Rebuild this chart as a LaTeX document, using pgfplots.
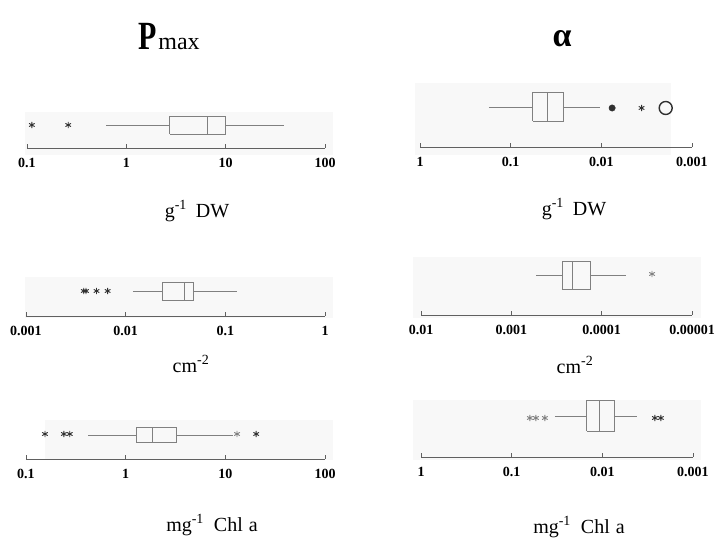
\documentclass[border=0pt]{standalone}
\usepackage{pgfplots}
\pgfplotsset{compat=1.18}
\usepackage{fontspec}
\setmainfont{Liberation Serif}
\definecolor{bgc}{HTML}{F8F8F8}
\definecolor{boxc}{HTML}{808080}
\definecolor{axc}{HTML}{606060}
\definecolor{outc}{HTML}{303030}
\pgfplotsset{
  myaxisstyle/.style={
    scale only axis, clip=false,
    axis x line=bottom, axis y line=none,
    axis line style={-, axc, line width=0.9pt},
    xminorticks=false,
    tick align=inside, major tick length=4pt,
    every tick/.style={axc, line width=0.8pt},
    /pgf/number format/assume math mode=true,
    xticklabel style={font=\bfseries\fontsize{14}{14}\selectfont, yshift=-7pt},
  },
  bl/.style={draw=boxc, line width=0.8pt, solid, mark=none},
  ast/.style={only marks, mark=asterisk, mark size=3.2pt, outc, mark options={line width=0.9pt}},
}
\newcommand{\unitfont}{\fontsize{20}{20}\selectfont}
\begin{document}
\begin{tikzpicture}
\path[use as bounding box] (0pt,0pt) rectangle (726pt,540pt);
% backgrounds
\fill[bgc] (25pt,385pt) rectangle (333pt,428pt);
\fill[bgc] (415pt,385pt) rectangle (671pt,457pt);
\fill[bgc] (25pt,222pt) rectangle (333pt,263pt);
\fill[bgc] (413pt,222pt) rectangle (701pt,283pt);
\fill[bgc] (45pt,80pt) rectangle (333pt,120pt);
\fill[bgc] (413pt,80pt) rectangle (701pt,140pt);

% Panel 1: Pmax g-1 DW
\begin{axis}[xmode=log, myaxisstyle, at={(27pt,392pt)}, anchor=south west, width=298pt, height=36pt,
  xmin=0.1, xmax=100, ymin=0, ymax=36,
  xtick={0.1,1,10,100}, xticklabels={0.1,1,10,100}]
\addplot[bl] coordinates {(0.63,23) (2.74,23)};
\addplot[bl] coordinates {(10,23) (39,23)};
\addplot[bl] coordinates {(2.74,14) (10,14) (10,32) (2.74,32) (2.74,14)};
\addplot[bl] coordinates {(6.6,14) (6.6,32)};
\addplot[ast] coordinates {(0.112,23) (0.26,23)};
\end{axis}

% Panel 2: alpha g-1 DW (scale runs from 1 at left to 0.001 at right; x = 1/value)
\begin{axis}[xmode=log, myaxisstyle, at={(420pt,393pt)}, anchor=south west, width=272pt, height=64pt,
  xmin=1, xmax=1000, ymin=0, ymax=64,
  xtick={1,10,100,1000}, xticklabels={1,0.1,0.01,0.001}]
\addplot[bl] table[x expr=1/\thisrowno{0}, y index=1, row sep=\\] {0.174 40\\ 0.057 40\\};
\addplot[bl] table[x expr=1/\thisrowno{0}, y index=1, row sep=\\] {0.0265 40\\ 0.0104 40\\};
\addplot[bl] table[x expr=1/\thisrowno{0}, y index=1, row sep=\\] {0.057 25.5\\ 0.0265 25.5\\ 0.0265 54.5\\ 0.057 54.5\\ 0.057 25.5\\};
\addplot[bl] table[x expr=1/\thisrowno{0}, y index=1, row sep=\\] {0.039 25.5\\ 0.039 54.5\\};
\addplot[only marks, mark=*, mark size=3.2pt, outc] table[x expr=1/\thisrowno{0}, y index=1, row sep=\\] {0.0076 39\\};
\addplot[ast] table[x expr=1/\thisrowno{0}, y index=1, row sep=\\] {0.0036 39\\};
\addplot[only marks, mark=o, mark size=6.5pt, outc, mark options={line width=1.4pt}] table[x expr=1/\thisrowno{0}, y index=1, row sep=\\] {0.00195 39\\};
\end{axis}

% Panel 3: Pmax cm-2
\begin{axis}[xmode=log, myaxisstyle, at={(26pt,224pt)}, anchor=south west, width=299pt, height=39pt,
  xmin=0.001, xmax=1, ymin=0, ymax=39,
  xtick={0.001,0.01,0.1,1}, xticklabels={0.001,0.01,0.1,1}]
\addplot[bl] coordinates {(0.0118,25) (0.0231,25)};
\addplot[bl] coordinates {(0.0473,25) (0.131,25)};
\addplot[bl] coordinates {(0.0231,16) (0.0473,16) (0.0473,34) (0.0231,34) (0.0231,16)};
\addplot[bl] coordinates {(0.0385,16) (0.0385,34)};
\addplot[ast] coordinates {(0.0038,25) (0.0040,25) (0.0051,25) (0.0066,25)};
\end{axis}

% Panel 4: alpha cm-2 (scale from 0.01 at left to 0.00001 at right; x = 1/value)
\begin{axis}[xmode=log, myaxisstyle, at={(421pt,225pt)}, anchor=south west, width=271pt, height=58pt,
  xmin=100, xmax=100000, ymin=0, ymax=58,
  xtick={100,1000,10000,100000}, xticklabels={0.01,0.001,0.0001,0.00001}]
\addplot[bl] table[x expr=1/\thisrowno{0}, y index=1, row sep=\\] {0.000533 40\\ 0.000275 40\\};
\addplot[bl] table[x expr=1/\thisrowno{0}, y index=1, row sep=\\] {0.000135 40\\ 0.0000537 40\\};
\addplot[bl] table[x expr=1/\thisrowno{0}, y index=1, row sep=\\] {0.000275 26\\ 0.000135 26\\ 0.000135 54\\ 0.000275 54\\ 0.000275 26\\};
\addplot[bl] table[x expr=1/\thisrowno{0}, y index=1, row sep=\\] {0.000213 26\\ 0.000213 54\\};
\addplot[ast, gray] table[x expr=1/\thisrowno{0}, y index=1, row sep=\\] {0.0000277 41\\};
\end{axis}

% Panel 5: Pmax mg-1 Chl a
\begin{axis}[xmode=log, myaxisstyle, at={(26pt,81pt)}, anchor=south west, width=299pt, height=39pt,
  xmin=0.1, xmax=100, ymin=0, ymax=39,
  xtick={0.1,1,10,100}, xticklabels={0.1,1,10,100}]
\addplot[bl] coordinates {(0.42,24) (1.27,24)};
\addplot[bl] coordinates {(3.2,24) (11.9,24)};
\addplot[bl] coordinates {(1.27,16.5) (3.2,16.5) (3.2,31.5) (1.27,31.5) (1.27,16.5)};
\addplot[bl] coordinates {(1.84,16.5) (1.84,31.5)};
\addplot[ast] coordinates {(0.155,25) (0.24,25) (0.275,25) (20.4,25)};
\addplot[ast, gray] coordinates {(13.1,25)};
\end{axis}

% Panel 6: alpha mg-1 Chl a (scale from 1 at left to 0.001 at right; x = 1/value)
\begin{axis}[xmode=log, myaxisstyle, at={(421pt,83pt)}, anchor=south west, width=272pt, height=57pt,
  xmin=1, xmax=1000, ymin=0, ymax=57,
  xtick={1,10,100,1000}, xticklabels={1,0.1,0.01,0.001}]
\addplot[bl] table[x expr=1/\thisrowno{0}, y index=1, row sep=\\] {0.0333 41\\ 0.0148 41\\};
\addplot[bl] table[x expr=1/\thisrowno{0}, y index=1, row sep=\\] {0.00745 41\\ 0.00416 41\\};
\addplot[bl] table[x expr=1/\thisrowno{0}, y index=1, row sep=\\] {0.0148 25.5\\ 0.00745 25.5\\ 0.00745 56.5\\ 0.0148 56.5\\ 0.0148 25.5\\};
\addplot[bl] table[x expr=1/\thisrowno{0}, y index=1, row sep=\\] {0.0109 25.5\\ 0.0109 56.5\\};
\addplot[ast, gray] table[x expr=1/\thisrowno{0}, y index=1, row sep=\\] {0.063 39\\ 0.054 39\\ 0.043 39\\};
\addplot[ast] table[x expr=1/\thisrowno{0}, y index=1, row sep=\\] {0.00263 39\\ 0.00226 39\\};
\end{axis}

% titles and unit labels
\node[anchor=base] at (169pt,490pt) {\bfseries\scalebox{0.75}[1]{\fontsize{40}{40}\selectfont P}\,\mdseries\fontsize{24}{24}\selectfont max};
\node[anchor=base] at (562pt,493pt) {\bfseries\fontsize{34}{34}\selectfont α};
\node[font=\unitfont] at (197pt,329pt) {g\textsuperscript{-1}\hspace{0.45em}DW};
\node[font=\unitfont] at (574pt,331pt) {g\textsuperscript{-1}\hspace{0.45em}DW};
\node[font=\unitfont] at (191pt,176pt) {cm\textsuperscript{-2}};
\node[font=\unitfont] at (575pt,175pt) {cm\textsuperscript{-2}};
\node[font=\unitfont] at (212pt,15pt) {mg\textsuperscript{-1}\hspace{0.5em}Chl\hspace{0.3em}a};
\node[font=\unitfont] at (579pt,13pt) {mg\textsuperscript{-1}\hspace{0.5em}Chl\hspace{0.3em}a};
\end{tikzpicture}
\end{document}
